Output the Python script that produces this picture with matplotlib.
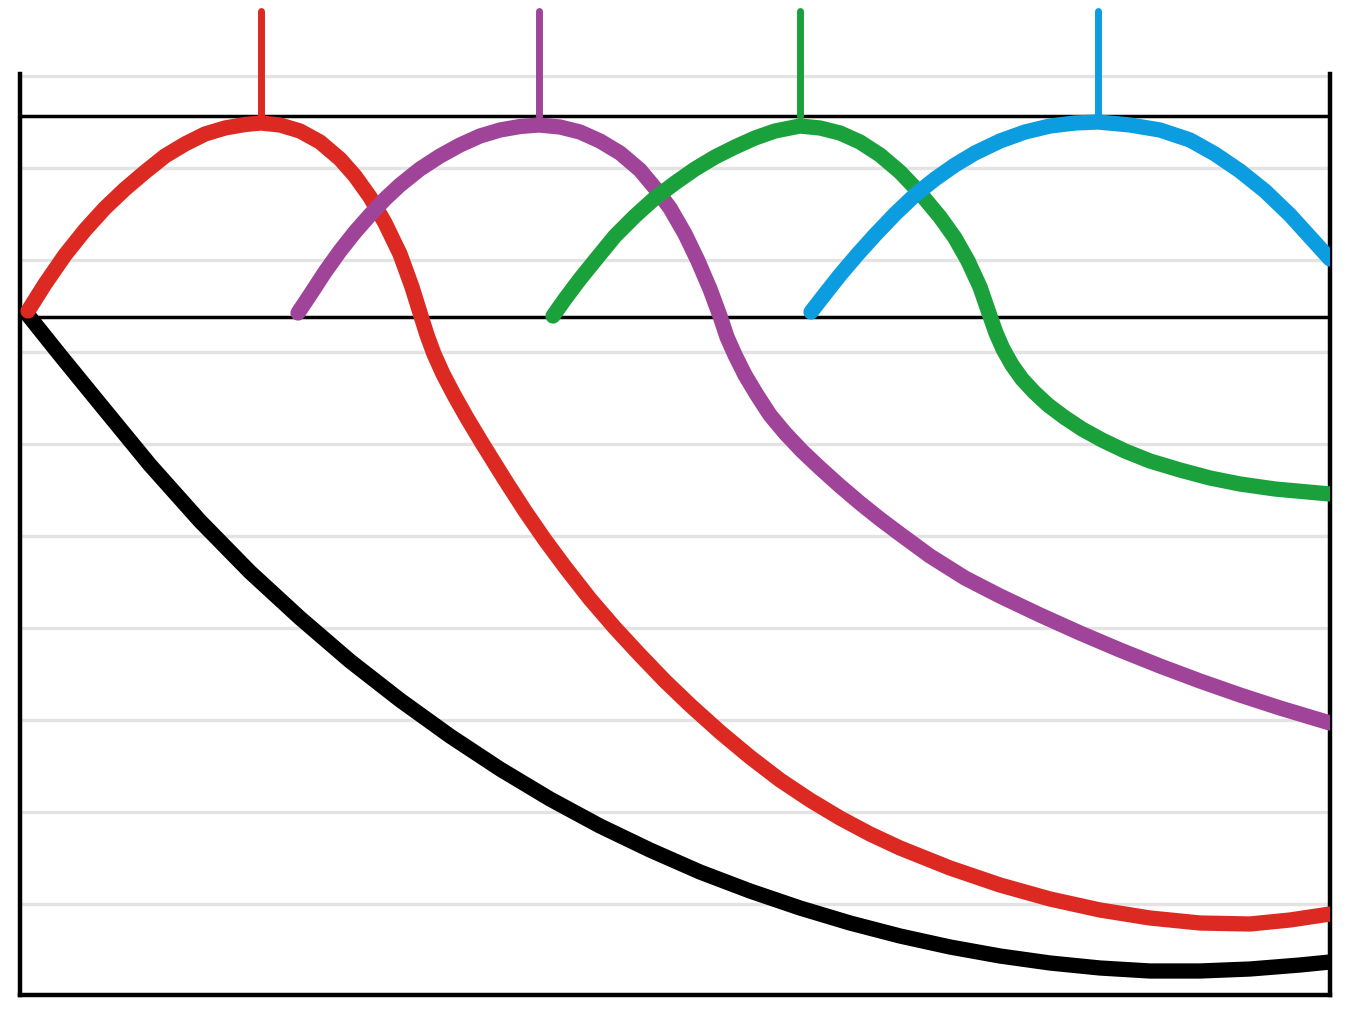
import matplotlib
matplotlib.use("Agg")
import matplotlib.pyplot as plt

# --- values (x: time units, y: signal; 0 is the
# lower reference level) ---
black_x = [0.08, 0.40, 0.80, 1.30, 1.80, 2.30, 2.80, 3.30, 3.80, 4.30, 4.80,
           5.30, 5.80, 6.30, 6.80, 7.30, 7.80, 8.30, 8.80, 9.30, 9.80, 10.30,
           10.80, 11.30, 11.80, 12.30, 12.80, 13.10]
black_y = [0.02, -0.38, -0.87, -1.48, -2.04, -2.55, -3.01, -3.44, -3.83,
           -4.19, -4.52, -4.82, -5.09, -5.33, -5.55, -5.74, -5.91, -6.06,
           -6.19, -6.30, -6.39, -6.46, -6.51, -6.54, -6.54, -6.52, -6.48,
           -6.45]

red_x = [0.08, 0.25, 0.45, 0.65, 0.85, 1.05, 1.25, 1.45, 1.65, 1.85, 2.05,
         2.25, 2.41, 2.60, 2.80, 3.00, 3.20, 3.35, 3.50, 3.65, 3.80, 3.92,
         4.01, 4.07, 4.14, 4.23, 4.34, 4.47, 4.62, 4.85, 5.05, 5.25, 5.45,
         5.70, 5.95, 6.20, 6.45, 6.70, 7.00, 7.30, 7.60, 7.90, 8.20, 8.50,
         8.80, 9.30, 9.80, 10.30, 10.80, 11.30, 11.80, 12.30, 12.70, 13.10]
red_y = [0.06, 0.33, 0.62, 0.87, 1.09, 1.28, 1.45, 1.61, 1.73, 1.83, 1.89,
         1.925, 1.94, 1.92, 1.86, 1.75, 1.58, 1.41, 1.20, 0.94, 0.63, 0.30,
         0.01, -0.18, -0.37, -0.57, -0.78, -1.01, -1.26, -1.63, -1.94, -2.23,
         -2.50, -2.82, -3.11, -3.38, -3.64, -3.88, -4.15, -4.40, -4.63,
         -4.83, -5.01, -5.17, -5.31, -5.51, -5.68, -5.82, -5.93, -6.01,
         -6.06, -6.07, -6.03, -5.97]

purple_x = [2.78, 2.90, 3.05, 3.20, 3.35, 3.50, 3.65, 3.80, 4.00, 4.20, 4.40,
            4.60, 4.80, 5.00, 5.19, 5.40, 5.60, 5.80, 6.00, 6.20, 6.35, 6.50,
            6.65, 6.78, 6.90, 7.00, 7.07, 7.15, 7.25, 7.37, 7.50, 7.65, 7.82,
            8.00, 8.20, 8.40, 8.60, 8.80, 9.10, 9.45, 9.80, 10.20, 10.60,
            11.00, 11.40, 11.80, 12.20, 12.60, 13.10]
purple_y = [0.04, 0.22, 0.45, 0.66, 0.85, 1.02, 1.18, 1.32, 1.48, 1.61, 1.72,
            1.81, 1.87, 1.905, 1.92, 1.90, 1.85, 1.76, 1.64, 1.47, 1.29, 1.09,
            0.83, 0.56, 0.28, 0.01, -0.20, -0.38, -0.58, -0.78, -0.98, -1.16,
            -1.34, -1.51, -1.69, -1.86, -2.02, -2.17, -2.39, -2.61, -2.79,
            -2.98, -3.16, -3.33, -3.49, -3.64, -3.78, -3.91, -4.06]

green_x = [5.33, 5.45, 5.60, 5.77, 5.95, 6.15, 6.35, 6.55, 6.75, 6.95, 7.15,
           7.35, 7.55, 7.80, 8.00, 8.20, 8.40, 8.60, 8.80, 9.00, 9.20, 9.35,
           9.48, 9.60, 9.70, 9.76, 9.83, 9.92, 10.02, 10.14, 10.28, 10.44,
           10.62, 10.82, 11.05, 11.30, 11.60, 11.90, 12.20, 12.55, 13.10]
green_y = [0.01, 0.18, 0.38, 0.59, 0.81, 1.01, 1.19, 1.34, 1.48, 1.60, 1.70,
           1.79, 1.86, 1.91, 1.89, 1.84, 1.75, 1.62, 1.45, 1.24, 1.00, 0.79,
           0.56, 0.30, 0.01, -0.16, -0.32, -0.48, -0.62, -0.75, -0.88, -1.00,
           -1.12, -1.23, -1.34, -1.44, -1.53, -1.61, -1.67, -1.72, -1.77]

blue_x = [7.91, 8.05, 8.20, 8.37, 8.55, 8.75, 8.95, 9.15, 9.35, 9.55, 9.80,
          10.05, 10.30, 10.55, 10.78, 11.10, 11.40, 11.70, 11.95, 12.20,
          12.45, 12.70, 12.90, 13.10]
blue_y = [0.05, 0.23, 0.42, 0.62, 0.82, 1.03, 1.22, 1.38, 1.52, 1.64, 1.76,
          1.85, 1.91, 1.94, 1.95, 1.92, 1.87, 1.77, 1.63, 1.46, 1.26, 1.02,
          0.80, 0.58]

peak_x = [2.41, 5.19, 7.80, 10.78]
peak_tick_top = 3.06
ref_levels = [0.0, 2.01]
grid_y = [2.41, 1.49, 0.57, -0.35, -1.27, -2.19, -3.11, -4.03, -4.95, -5.87]

colors = {
    "black": "#000000",
    "red": "#dc2a23",
    "purple": "#a0449a",
    "green": "#1ba13c",
    "blue": "#0c9de0",
}

fig = plt.figure(figsize=(13.53, 10.2), dpi=100)
ax = fig.add_axes([20 / 1353, 24 / 1020, 1310 / 1353, 921 / 1020])

ax.set_xlim(0, 13.10)
ax.set_ylim(-6.78, 2.43)

# light horizontal grid
ax.set_yticks(grid_y)
ax.set_xticks([])
ax.yaxis.grid(True, color="#e3e3e3", linewidth=2.4)
ax.set_axisbelow(True)
ax.tick_params(left=False, labelleft=False, bottom=False, labelbottom=False)

# frame: no top edge
ax.spines["top"].set_visible(False)
for side in ("left", "right", "bottom"):
    ax.spines[side].set_linewidth(3.2)
    ax.spines[side].set_color("black")

# reference levels
for lvl in ref_levels:
    ax.axhline(lvl, color="black", linewidth=2.5, zorder=2)

curve_style = dict(linewidth=11, solid_capstyle="round",
                   solid_joinstyle="round", zorder=3)
ax.plot(black_x, black_y, color=colors["black"], **curve_style)
ax.plot(red_x, red_y, color=colors["red"], **curve_style)
ax.plot(purple_x, purple_y, color=colors["purple"], **curve_style)
ax.plot(green_x, green_y, color=colors["green"], **curve_style)
ax.plot(blue_x, blue_y, color=colors["blue"], **curve_style)

# peak markers above the upper reference level
peak_colors = [colors["red"], colors["purple"], colors["green"], colors["blue"]]
ax.vlines(peak_x, ref_levels[1], peak_tick_top, colors=peak_colors,
          linewidth=5, capstyle="round", clip_on=False, zorder=4)

fig.savefig("out.png", dpi=100)
